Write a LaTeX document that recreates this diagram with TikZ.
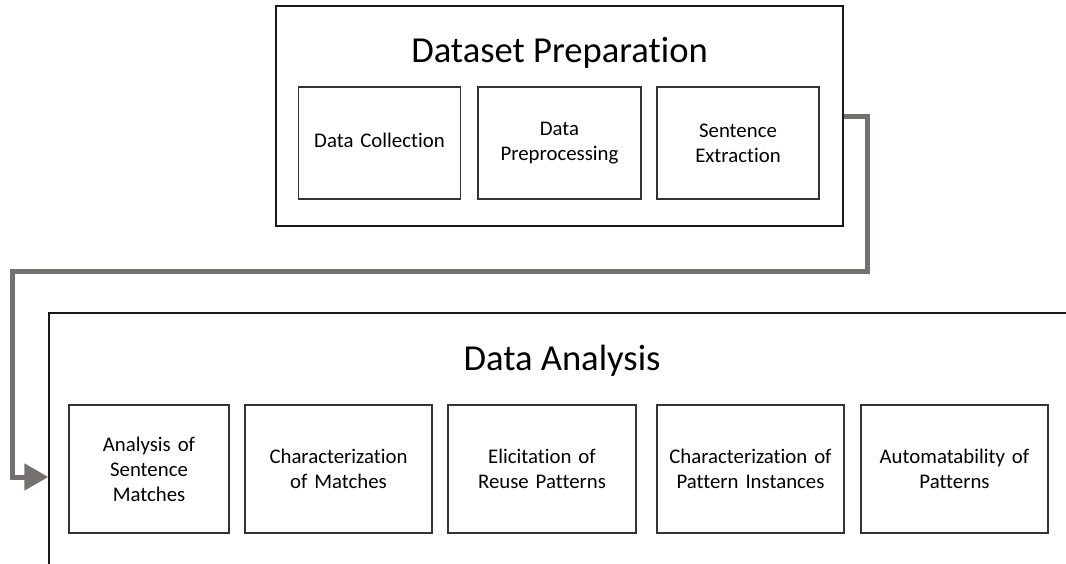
\documentclass[tikz,border=0pt]{standalone}
\usepackage{fontspec}
\setmainfont[RawFeature={-liga;-clig;-dlig}]{Carlito}
\usetikzlibrary{arrows.meta}
\definecolor{conngray}{RGB}{118,113,113}
\tikzset{
  frame/.style={draw=black!90, line width=1.3pt, fill=none, inner sep=0pt},
  stepbox/.style={draw=black!80, line width=1.3pt, inner sep=2pt, align=center,
     font=\fontsize{20.8pt}{25pt}\selectfont, text width=150pt},
  titletext/.style={font=\fontsize{36.6pt}{40pt}\selectfont, anchor=base, inner sep=0pt},
  conn/.style={draw=conngray, line width=5pt, -{Triangle[length=24pt,width=26pt]}}
}
\begin{document}
\begin{tikzpicture}[x=1pt,y=-1pt]
\clip (0,0) rectangle (1066,563);
\fill[white] (0,0) rectangle (1066,563);
% top frame
\node[frame, minimum width=567pt, minimum height=220pt] (top) at (559.5,116) {};
\node[titletext] (ttop) at (559.5,62) {Dataset Preparation};
\node[stepbox, minimum width=162pt, minimum height=112pt] (dc) at (379.5,143) {\raisebox{5pt}{Data Collection}};
\node[stepbox, minimum width=163pt, minimum height=112pt] (dp) at (559.5,143) {Data\\Preprocessing};
\node[stepbox, minimum width=162pt, minimum height=112pt] (se) at (738,143) {Sentence\\Extraction};
% bottom frame
\node[frame, minimum width=1031pt, minimum height=328pt] (bot) at (564.5,477) {};
\node[titletext] (tbot) at (562,370) {Data Analysis};
\node[stepbox, minimum width=160pt, minimum height=128pt] (b1) at (149,469) {Analysis of\\Sentence\\Matches};
\node[stepbox, minimum width=187pt, minimum height=128pt, text width=180pt] (b2) at (338.5,469) {Characterization\\of Matches};
\node[stepbox, minimum width=188pt, minimum height=128pt, text width=180pt] (b3) at (542,469) {Elicitation of\\Reuse Patterns};
\node[stepbox, minimum width=187pt, minimum height=128pt, text width=180pt] (b4) at (750.5,469) {Characterization of\\Pattern Instances};
\node[stepbox, minimum width=187pt, minimum height=128pt, text width=180pt] (b5) at (954.5,469) {Automatability of\\Patterns};
% connector
\coordinate (c1) at (867,271);
\coordinate (c2) at (12,271);
\draw[conn] (top.east) -| (c1) -- (c2) |- (bot.west);
\end{tikzpicture}
\end{document}
